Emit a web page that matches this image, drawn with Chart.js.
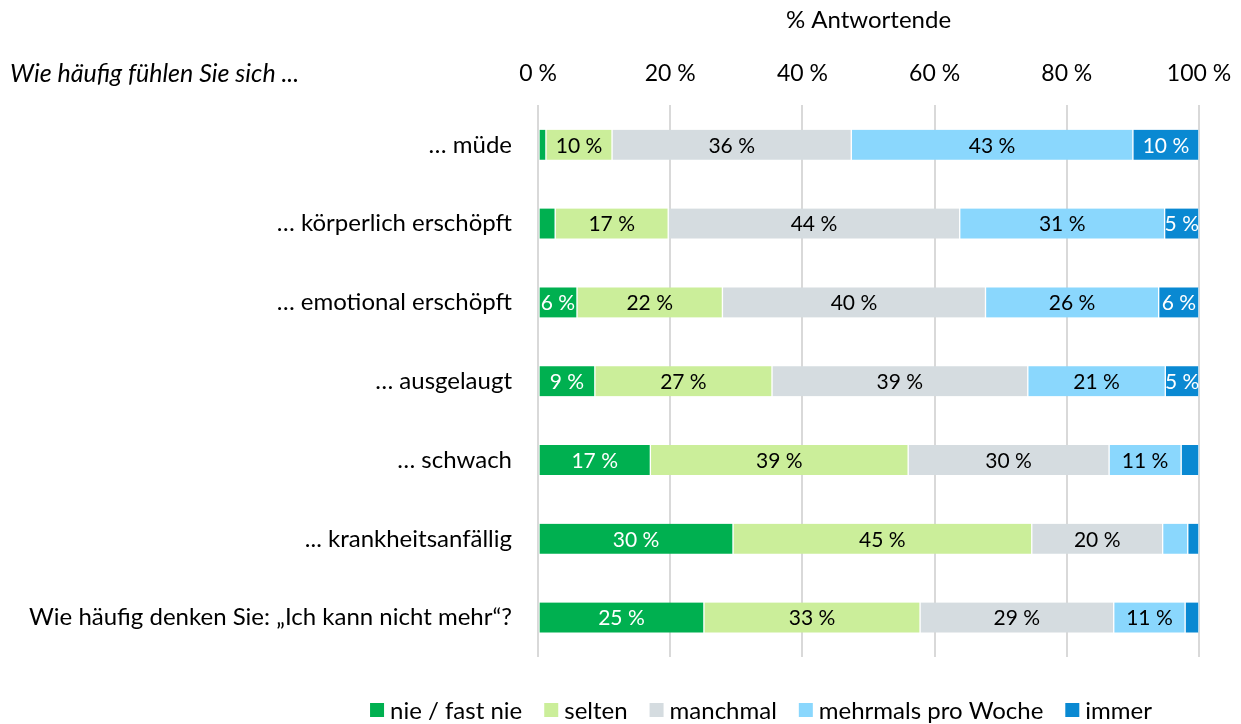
<!DOCTYPE html>
<html>
  <head>
    <meta charset="utf-8">
    <title>Erschöpfung</title>
    <script src="https://cdn.jsdelivr.net/npm/chart.js@4"></script>
    <style>
      body { margin: 0; background: #fff; }
      #wrap { width: 1241px; height: 724px; position: relative; }
    </style>
  </head>
  <body>
    <div id="wrap"><canvas id="myChart" width="1241" height="724"></canvas></div>

    <script type="text/javascript">
      // categories
      var labels = [
        '\u2026 müde',
        '\u2026 körperlich erschöpft',
        '\u2026 emotional erschöpft',
        '\u2026 ausgelaugt',
        '\u2026 schwach',
        '... krankheitsanfällig',
        'Wie häufig denken Sie: \u201EIch kann nicht mehr\u201C?'
      ];

      // series (% Antwortende)
      var nie      = [1.2, 2.6, 5.9, 8.6, 17.0, 29.5, 25.1];
      var selten   = [10.0, 17.1, 22.0, 26.8, 39.0, 45.2, 32.7];
      var manchmal = [36.2, 44.1, 39.8, 38.7, 30.4, 19.8, 29.3];
      var mehrmals = [42.6, 31.0, 26.2, 20.8, 10.9, 3.8, 10.8];
      var immer    = [10.0, 5.2, 6.1, 5.1, 2.7, 1.7, 2.1];

      var seriesNames = ['nie / fast nie', 'selten', 'manchmal', 'mehrmals pro Woche', 'immer'];
      var xTicks = [0, 20, 40, 60, 80, 100];

      var FONT = 'Lato, "Open Sans", sans-serif';

      function ds(name, data, color, textColor) {
        return {
          label: name,
          data: data,
          backgroundColor: color,
          borderColor: '#ffffff',
          borderWidth: { left: 1, right: 1, top: 0, bottom: 0 },
          borderSkipped: false,
          barThickness: 30,
          labelColor: textColor
        };
      }

      // value labels inside the segments
      var valueLabels = {
        id: 'valueLabels',
        afterDatasetsDraw: function(chart) {
          var ctx = chart.ctx;
          ctx.save();
          ctx.font = '21px ' + FONT;
          ctx.textAlign = 'center';
          ctx.textBaseline = 'middle';
          chart.data.datasets.forEach(function(d, i) {
            var meta = chart.getDatasetMeta(i);
            meta.data.forEach(function(bar, j) {
              var v = d.data[j];
              if (v < 4.5) return;
              var p = bar.getCenterPoint();
              ctx.fillStyle = d.labelColor;
              ctx.fillText(Math.round(v) + ' %', p.x, p.y + 1);
            });
          });
          ctx.restore();
        }
      };

      // italic question top left + legend under the chart
      var extras = {
        id: 'extras',
        afterDraw: function(chart) {
          var ctx = chart.ctx;
          ctx.save();
          ctx.font = 'italic 25px ' + FONT;
          ctx.fillStyle = '#000';
          ctx.textAlign = 'left';
          ctx.textBaseline = 'middle';
          ctx.fillText('Wie häufig fühlen Sie sich ...', 10, 74);

          // legend
          ctx.font = '24px ' + FONT;
          var box = 14, gapText = 6, gapItem = 22;
          var sets = chart.data.datasets;
          var total = 0;
          sets.forEach(function(d, i) {
            total += box + gapText + ctx.measureText(d.label).width;
            if (i < sets.length - 1) total += gapItem;
          });
          var x = 761 - total / 2, y = 710;
          sets.forEach(function(d) {
            ctx.fillStyle = d.backgroundColor;
            ctx.fillRect(x, y - box / 2, box, box);
            x += box + gapText;
            ctx.fillStyle = '#000';
            ctx.fillText(d.label, x, y + 1);
            x += ctx.measureText(d.label).width + gapItem;
          });
          ctx.restore();
        }
      };

      var ctx = document.getElementById('myChart').getContext('2d');
      var chart = new Chart(ctx, {
        type: 'bar',
        data: {
          labels: labels,
          datasets: [
            ds(seriesNames[0], nie, '#00B050', '#ffffff'),
            ds(seriesNames[1], selten, '#CBEE9A', '#000000'),
            ds(seriesNames[2], manchmal, '#D5DCE0', '#000000'),
            ds(seriesNames[3], mehrmals, '#8AD7FD', '#000000'),
            ds(seriesNames[4], immer, '#0A89D2', '#ffffff')
          ]
        },
        options: {
          indexAxis: 'y',
          responsive: false,
          animation: false,
          layout: { padding: { top: 6, right: 0, left: 0, bottom: 67 } },
          scales: {
            x: {
              position: 'top',
              stacked: true,
              min: 0,
              max: 100,
              afterBuildTicks: function(axis) {
                axis.ticks = xTicks.map(function(v) { return { value: v }; });
              },
              afterFit: function(axis) {
                axis.paddingLeft = 0;
                axis.paddingRight = 42;
              },
              grid: { color: '#D9D9D9', lineWidth: 2, drawTicks: false },
              border: { display: false },
              ticks: {
                padding: 18,
                color: '#000',
                font: { family: FONT, size: 23 },
                callback: function(v) { return v + ' %'; }
              },
              title: {
                display: true,
                text: '% Antwortende',
                color: '#000',
                font: { family: FONT, size: 24 },
                padding: { top: 0, bottom: 7 }
              }
            },
            y: {
              stacked: true,
              afterFit: function(axis) { axis.width = 538; },
              grid: { display: false, drawTicks: false },
              border: { display: false },
              ticks: {
                padding: 26,
                color: '#000',
                font: { family: FONT, size: 24 }
              }
            }
          },
          plugins: {
            legend: { display: false },
            tooltip: { enabled: false }
          }
        },
        plugins: [valueLabels, extras]
      });
    </script>
  </body>
</html>
